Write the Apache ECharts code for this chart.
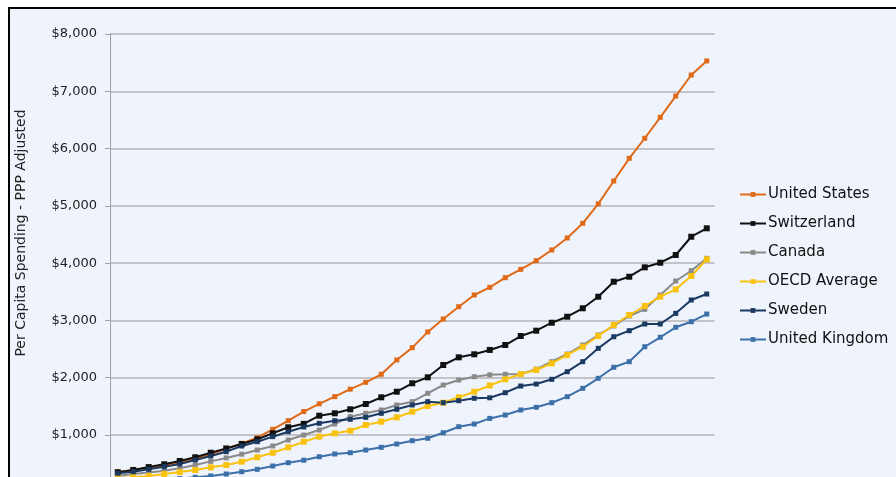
<!DOCTYPE html>
<html>
<head>
<meta charset="utf-8">
<script src="https://cdn.jsdelivr.net/npm/echarts@6/dist/echarts.min.js"></script>
<style>
  html, body { margin: 0; padding: 0; width: 896px; height: 477px; overflow: hidden; background: #ffffff; }
  #frame { position: absolute; left: 8px; top: 7px; width: 1000px; height: 700px; border: 2px solid #000; background: #eff3fc; }
  #chart { position: absolute; left: 0; top: 0; width: 896px; height: 540px; }
</style>
</head>
<body>
<div id="frame"></div>
<div id="chart"></div>
<script>
// Health spending per capita, PPP adjusted, 1970-2008
const years = [];
for (let y = 1970; y <= 2008; y++) years.push(String(y));

const unitedStates = [356, 390, 430, 470, 525, 590, 665, 760, 855, 953, 1100, 1250, 1410, 1545, 1670, 1800, 1920, 2060, 2310, 2525, 2800, 3025, 3240, 3444, 3578, 3746, 3892, 4043, 4230, 4440, 4695, 5035, 5434, 5830, 6180, 6546, 6917, 7284, 7530];
const switzerland = [350, 390, 440, 489, 546, 611, 691, 765, 843, 925, 1030, 1135, 1195, 1337, 1379, 1449, 1541, 1658, 1756, 1903, 2007, 2222, 2356, 2409, 2485, 2571, 2728, 2821, 2960, 3065, 3212, 3414, 3676, 3763, 3927, 4008, 4142, 4461, 4608];
const canada = [290, 318, 345, 375, 420, 478, 540, 600, 665, 738, 808, 913, 1000, 1087, 1192, 1320, 1379, 1437, 1524, 1582, 1728, 1873, 1960, 2018, 2050, 2060, 2065, 2150, 2280, 2414, 2571, 2746, 2903, 3077, 3194, 3444, 3688, 3868, 4084];
const oecdAverage = [250, 262, 285, 319, 354, 389, 436, 477, 534, 611, 691, 785, 883, 971, 1030, 1075, 1175, 1232, 1309, 1407, 1506, 1564, 1658, 1756, 1865, 1972, 2065, 2135, 2252, 2397, 2541, 2728, 2920, 3095, 3252, 3414, 3543, 3776, 4067];
const sweden = [332, 360, 401, 447, 494, 564, 634, 709, 808, 883, 971, 1058, 1140, 1204, 1250, 1274, 1309, 1379, 1449, 1524, 1582, 1564, 1599, 1641, 1650, 1739, 1855, 1890, 1972, 2105, 2280, 2513, 2716, 2821, 2938, 2938, 3124, 3357, 3461];
const unitedKingdom = [160, 175, 195, 215, 240, 262, 285, 319, 360, 401, 459, 517, 560, 621, 669, 691, 738, 785, 843, 901, 943, 1040, 1145, 1192, 1290, 1349, 1437, 1484, 1564, 1669, 1815, 1990, 2182, 2280, 2541, 2706, 2880, 2978, 3112];

const yTicks = [0, 1000, 2000, 3000, 4000, 5000, 6000, 7000, 8000];

const seriesDefs = [
  { name: 'United States', data: unitedStates, color: '#e06a17', size: 5 },
  { name: 'Switzerland', data: switzerland, color: '#111111', size: 6 },
  { name: 'Canada', data: canada, color: '#8a8a8a', size: 5 },
  { name: 'OECD Average', data: oecdAverage, color: '#f9c20f', size: 6 },
  { name: 'Sweden', data: sweden, color: '#1b3a62', size: 5 },
  { name: 'United Kingdom', data: unitedKingdom, color: '#3d70a9', size: 5 }
];

const chart = echarts.init(document.getElementById('chart'), null, { renderer: 'canvas' });

chart.setOption({
  backgroundColor: 'transparent',
  animation: false,
  textStyle: { fontFamily: 'DejaVu Sans' },
  grid: { left: 110, right: 181.5, top: 34, bottom: 47.7, containLabel: false },
  legend: {
    orient: 'vertical',
    left: 734,
    top: 182,
    itemWidth: 26,
    itemHeight: 6,
    itemGap: 14,
    textStyle: { fontSize: 15, color: '#111', fontFamily: 'DejaVu Sans', padding: [0, 0, 0, -3] },
    data: seriesDefs.map(s => s.name)
  },
  xAxis: {
    type: 'category',
    data: years,
    boundaryGap: true,
    axisLine: { show: true, lineStyle: { color: '#9a9a9a' } },
    axisTick: { show: false },
    axisLabel: { show: false },
    splitLine: { show: false }
  },
  yAxis: {
    type: 'value',
    min: yTicks[0],
    max: yTicks[yTicks.length - 1],
    interval: 1000,
    axisLine: { show: true, lineStyle: { color: '#a0a0a0', width: 1 } },
    axisTick: { show: true, length: 5, lineStyle: { color: '#a0a0a0' } },
    axisLabel: {
      margin: 13,
      fontSize: 13,
      color: '#222',
      fontFamily: 'DejaVu Sans',
      formatter: v => '$' + v.toLocaleString('en-US')
    },
    splitLine: { show: true, lineStyle: { color: '#b4b4b8', width: 1.5 } }
  },
  graphic: [{
    type: 'text',
    x: 21,
    y: 233,
    rotation: Math.PI / 2,
    style: {
      text: 'Per Capita Spending - PPP Adjusted',
      fill: '#222',
      fontSize: 14,
      fontFamily: 'DejaVu Sans',
      textAlign: 'center',
      textVerticalAlign: 'middle'
    }
  }],
  series: seriesDefs.map(s => ({
    name: s.name,
    type: 'line',
    data: s.data,
    symbol: 'rect',
    symbolSize: s.size,
    showAllSymbol: true,
    lineStyle: { color: s.color, width: 2 },
    itemStyle: { color: s.color },
    emphasis: { disabled: true }
  }))
});
</script>
</body>
</html>
